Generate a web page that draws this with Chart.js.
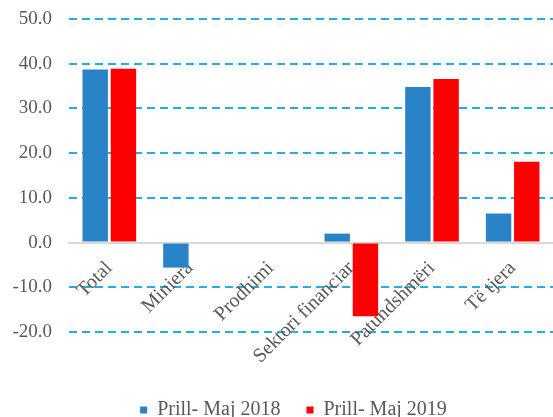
<!DOCTYPE html>
<html lang="sq">
<head>
  <meta charset="UTF-8" />
  <title>Prill- Maj</title>
  <script src="https://cdn.jsdelivr.net/npm/chart.js@4.4.3/dist/chart.umd.min.js"></script>
  <style>
    body {
      margin: 0;
      background: #ffffff;
    }

    .wrap {
      width: 553px;
      height: 417px;
      position: relative;
    }
  </style>
</head>
<body>
  <div class="wrap">
    <canvas id="grafiku"></canvas>
  </div>

  <script>
    // kategorite dhe vlerat (lexuar nga grafiku)
    const kategorite = ['Total', 'Miniera', 'Prodhimi', 'Sektori financiar', 'Patundshmëri', 'Të tjera'];
    const viti2018 = [38.7, -5.6, 0, 2.0, 34.8, 6.5];
    const viti2019 = [38.9, 0, 0, -16.5, 36.6, 18.1];
    const etiketat = ['Prill- Maj 2018', 'Prill- Maj 2019'];

    const familja = "'Liberation Serif', 'DejaVu Serif', serif";
    const gri = '#595959';

    // boshti x ne te gjithe gjeresine e zones, legjenda me poshte
    const rregulloVendet = {
      id: 'rregulloVendet',
      afterLayout(chart) {
        const x = chart.scales.x;
        x.left = chart.chartArea.left;
        x.right = chart.chartArea.right;
        x.width = x.right - x.left;
        x.configure();
        const l = chart.legend;
        if (l) {
          l.top += 42;
          l.bottom += 42;
          l.left += 12;
          l.right += 12;
        }
      }
    };

    new Chart(document.getElementById('grafiku'), {
      type: 'bar',
      data: {
        labels: kategorite,
        datasets: [
          {
            label: etiketat[0],
            data: viti2018,
            backgroundColor: '#2983c6',
            barPercentage: 0.9,
            categoryPercentage: 0.7
          },
          {
            label: etiketat[1],
            data: viti2019,
            backgroundColor: '#ff0000',
            barPercentage: 0.9,
            categoryPercentage: 0.7
          }
        ]
      },
      options: {
        responsive: true,
        maintainAspectRatio: false,
        animation: false,
        layout: {
          autoPadding: false,
          padding: { top: 19, left: 10, right: 0, bottom: 29 }
        },
        scales: {
          x: {
            position: { y: 0 },
            grid: { display: false, drawTicks: false },
            border: { display: true, color: '#d9d9d9', width: 2 },
            ticks: {
              color: gri,
              font: { family: familja, size: 20 },
              minRotation: 45,
              maxRotation: 45,
              padding: 14,
              autoSkip: false
            }
          },
          y: {
            min: -20,
            max: 50,
            grid: {
              drawTicks: false,
              lineWidth: 2,
              color: ctx => ctx.tick && ctx.tick.value === 0 ? 'rgba(0,0,0,0)' : '#21b0e6'
            },
            border: { display: false, dash: [8, 5] },
            ticks: {
              stepSize: 10,
              color: gri,
              font: { family: familja, size: 19 },
              padding: 17,
              callback: v => v.toFixed(1)
            },
            afterFit: s => { s.width = 59; s.paddingTop = 0; s.paddingBottom = 0; }
          }
        },
        plugins: {
          legend: {
            position: 'bottom',
            labels: {
              color: gri,
              font: { family: familja, size: 20 },
              usePointStyle: true,
              pointStyle: 'rect',
              boxWidth: 7,
              boxHeight: 7,
              padding: 26
            }
          },
          tooltip: { enabled: false }
        }
      },
      plugins: [rregulloVendet]
    });
  </script>
</body>
</html>
